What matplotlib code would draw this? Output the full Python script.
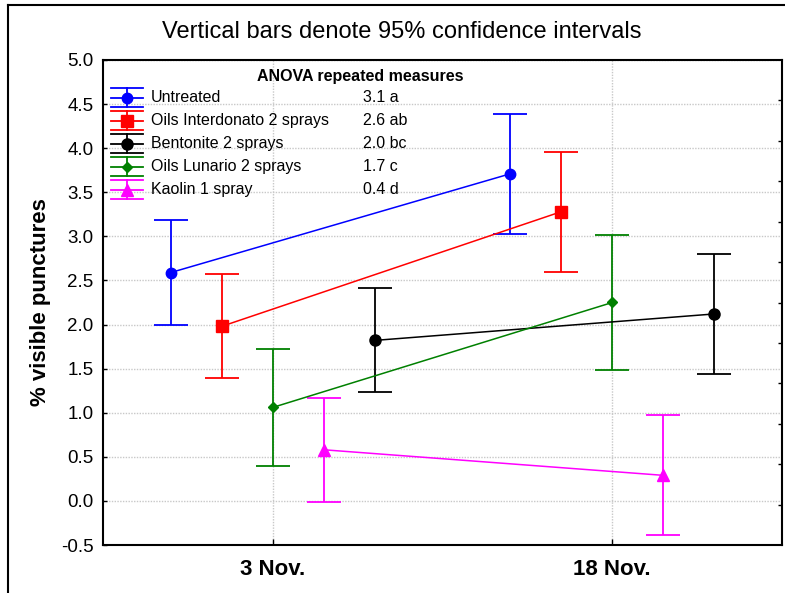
import matplotlib
matplotlib.use("Agg")
import matplotlib.pyplot as plt
from matplotlib import font_manager
from matplotlib.lines import Line2D

# ---- data -------------------------------------------------------------
dates = ["3 Nov.", "18 Nov."]
treatments = ["Untreated", "Oils Interdonato 2 sprays", "Bentonite 2 sprays",
              "Oils Lunario 2 sprays", "Kaolin 1 spray"]
anova_means = ["3.1 a", "2.6 ab", "2.0 bc", "1.7 c", "0.4 d"]

untreated_mean = [2.59, 3.71]
untreated_ci = [0.59, 0.68]
interdonato_mean = [1.98, 3.28]
interdonato_ci = [0.59, 0.68]
bentonite_mean = [1.82, 2.12]
bentonite_ci = [0.59, 0.68]
lunario_mean = [1.06, 2.25]
lunario_ci = [0.66, 0.77]
kaolin_mean = [0.58, 0.29]
kaolin_ci = [0.59, 0.68]

yticks = [-0.5, 0.0, 0.5, 1.0, 1.5, 2.0, 2.5, 3.0, 3.5, 4.0, 4.5, 5.0]

# ---- styling ----------------------------------------------------------
names = {f.name for f in font_manager.fontManager.ttflist}
base_font = "Liberation Sans" if "Liberation Sans" in names else "DejaVu Sans"
title_font = "Liberation Sans Narrow" if "Liberation Sans Narrow" in names else base_font
plt.rcParams["font.family"] = [base_font, "DejaVu Sans"]

series = [
    (untreated_mean, untreated_ci, "#0000ff", "o", 7.5, -0.30),
    (interdonato_mean, interdonato_ci, "#ff0000", "s", 8.0, -0.15),
    (bentonite_mean, bentonite_ci, "#000000", "o", 8.0, 0.30),
    (lunario_mean, lunario_ci, "#008000", "D", 5.0, 0.00),
    (kaolin_mean, kaolin_ci, "#ff00ff", "^", 8.0, 0.15),
]

W, H = 785, 593
fig = plt.figure(figsize=(W / 100, H / 100), dpi=100)
L, R, T, B = 103, 782, 60, 545
ax = fig.add_axes([L / W, 1 - B / H, (R - L) / W, (B - T) / H])

x_base = list(range(len(dates)))
for mean, ci, color, marker, ms, off in series:
    xs = [x + off for x in x_base]
    ax.errorbar(xs, mean, yerr=ci, color=color, marker=marker, markersize=ms,
                lw=1.1, elinewidth=1.3, capsize=12, capthick=1.3, zorder=3)

ax.set_xlim(-0.5, 1.5)
ax.set_ylim(-0.5, 5.0)
ax.set_xticks(x_base)
ax.set_xticklabels(dates, fontsize=16, fontweight="bold")
ax.set_yticks(yticks)
ax.set_yticklabels([f"{v:.1f}" for v in yticks], fontsize=13.5)
ax.tick_params(axis="y", direction="in", length=3, width=1, pad=7)
ax.tick_params(axis="x", direction="in", length=4, width=1, pad=10)
ax.grid(True, color="#c8c8c8", linestyle=(0, (1, 1)), linewidth=1.0, zorder=0)
for s in ax.spines.values():
    s.set_linewidth(1.5)
ax.set_ylabel("% visible punctures", fontsize=16, fontweight="bold", labelpad=7)

# secondary tick scale on the right spine
ax2 = ax.twinx()
ax2.set_ylim(0, 12)
ax2.set_yticks(range(1, 12))
ax2.set_yticklabels([])
ax2.tick_params(axis="y", direction="in", length=3, width=1)
for s in ax2.spines.values():
    s.set_visible(False)

fig.text(402 / W, 1 - 32 / H, "Vertical bars denote 95% confidence intervals",
         ha="center", va="center", fontsize=17, family=[title_font, "DejaVu Sans"])

# ---- legend -----------------------------------------------------------
def fx(px):
    return (px - L) / (R - L)

def fy(py):
    return (B - py) / (B - T)

tr = ax.transAxes
ax.text(fx(257), fy(76), "ANOVA repeated measures", transform=tr,
        fontsize=11.5, fontweight="bold", ha="left", va="center")
for i, (name, grp, (mean, ci, color, marker, ms, off)) in enumerate(
        zip(treatments, anova_means, series)):
    yc = 97.5 + 23.1 * i
    for dy in (-9.5, 0, 9.5):
        ax.add_line(Line2D([fx(111), fx(143)], [fy(yc + dy)] * 2, transform=tr,
                           color=color, lw=1.3, clip_on=False))
    ax.add_line(Line2D([fx(127)] * 2, [fy(yc - 9.5), fy(yc + 9.5)], transform=tr,
                       color=color, lw=1.3, clip_on=False))
    ax.add_line(Line2D([fx(127)], [fy(yc)], transform=tr, color=color,
                       marker=marker, markersize=ms, clip_on=False))
    ax.text(fx(151), fy(yc), name, transform=tr, fontsize=11.5,
            ha="left", va="center")
    ax.text(fx(363), fy(yc), grp, transform=tr, fontsize=11.5,
            ha="left", va="center")

# ---- outer frame ------------------------------------------------------
fig.add_artist(Line2D([8 / W, 8 / W], [0, 1 - 5 / H], color="black", lw=1.5,
                      transform=fig.transFigure))
fig.add_artist(Line2D([8 / W, 1], [1 - 5 / H, 1 - 5 / H], color="black", lw=1.5,
                      transform=fig.transFigure))

fig.savefig("out.png", dpi=100)
